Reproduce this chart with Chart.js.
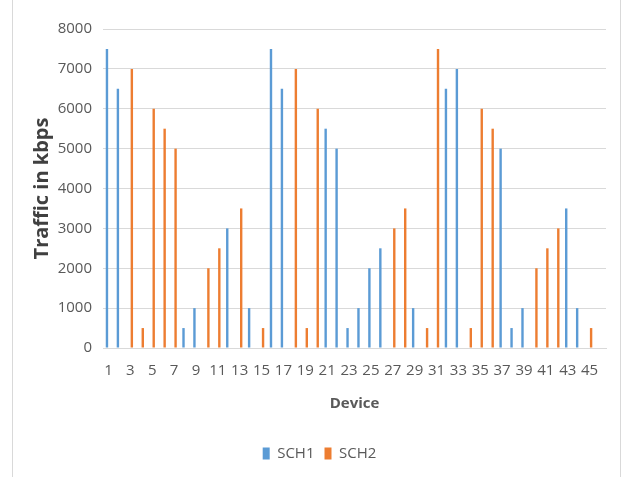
<!DOCTYPE html>
<html>
<head>
<meta charset="utf-8">
<script src="https://cdn.jsdelivr.net/npm/chart.js@4/dist/chart.umd.min.js"></script>
<style>
    html, body { margin: 0; padding: 0; background: #fff; }
    #wrap { position: relative; width: 631px; height: 477px; }
    #frame { position: absolute; left: 12px; top: 0; width: 609px; height: 477px;
             border-left: 1px solid #d9d9d9; border-right: 1px solid #d9d9d9; box-sizing: border-box; pointer-events: none; }
</style>
</head>
<body>
<div id="wrap">
    <canvas id="trafficChart" width="631" height="477"></canvas>
    <div id="frame"></div>
</div>
<script>
// Devices 1..46 (only odd ones get a label)
const devices = Array.from({ length: 46 }, (_, i) => String(i + 1));

// Traffic values (kbps), null = no bar
const sch1 = [7500, 6500, null, null, null, null, null, 500, 1000, null,
              null, 3000, null, 1000, null, 7500, 6500, null, null, null,
              5500, 5000, 500, 1000, 2000, 2500, null, null, 1000, null,
              null, 6500, 7000, null, null, null, 5000, 500, 1000, null,
              null, null, 3500, 1000, null, null];
const sch2 = [null, null, 7000, 500, 6000, 5500, 5000, null, null, 2000,
              2500, null, 3500, null, 500, null, null, 7000, 500, 6000,
              null, null, null, null, null, null, 3000, 3500, null, 500,
              7500, null, null, 500, 6000, 5500, null, null, null, 2000,
              2500, 3000, null, null, 500, null];

const textColor = '#595959';
const gridColor = '#d9d9d9';
const fontFamily = '"Open Sans", Lato, sans-serif';

const ctx = document.getElementById('trafficChart').getContext('2d');
new Chart(ctx, {
    type: 'bar',
    data: {
        labels: devices,
        datasets: [
            { label: 'SCH1', data: sch1, backgroundColor: '#5B9BD5',
              categoryPercentage: 0.55, barPercentage: 0.8 },
            { label: 'SCH2', data: sch2, backgroundColor: '#ED7D31',
              categoryPercentage: 0.55, barPercentage: 0.8 }
        ]
    },
    options: {
        responsive: false,
        animation: false,
        layout: { padding: { left: 33, right: 25, top: 29, bottom: 6 } },
        plugins: {
            tooltip: { enabled: false },
            legend: {
                position: 'bottom',
                labels: {
                    color: textColor,
                    font: { family: fontFamily, size: 15 },
                    boxWidth: 7,
                    boxHeight: 12,
                    padding: 10
                }
            }
        },
        scales: {
            x: {
                grid: { display: false, drawTicks: false },
                border: { display: true, color: gridColor },
                ticks: {
                    color: textColor,
                    font: { family: fontFamily, size: 15 },
                    padding: 14,
                    autoSkip: false,
                    maxRotation: 0,
                    callback: function(value, index) {
                        return index % 2 === 0 ? devices[index] : '';
                    }
                },
                title: {
                    display: true,
                    text: 'Device',
                    color: textColor,
                    font: { family: fontFamily, size: 15, weight: 'bold' },
                    padding: { top: 0, bottom: 23 }
                },
                afterFit: function(scale) { scale.height = 88; }
            },
            y: {
                min: 0,
                max: 8000,
                ticks: {
                    stepSize: 1000,
                    color: textColor,
                    font: { family: fontFamily, size: 15 },
                    padding: 11,
                    callback: function(value) { return String(value); }
                },
                grid: { color: gridColor, drawTicks: false },
                border: { display: false },
                title: {
                    display: true,
                    text: 'Traffic in kbps',
                    color: '#404040',
                    font: { family: fontFamily, size: 20, weight: 'bold' },
                    padding: { top: -3, bottom: 0 }
                },
                afterFit: function(scale) { scale.width = 70; }
            }
        }
    }
});
</script>
</body>
</html>
